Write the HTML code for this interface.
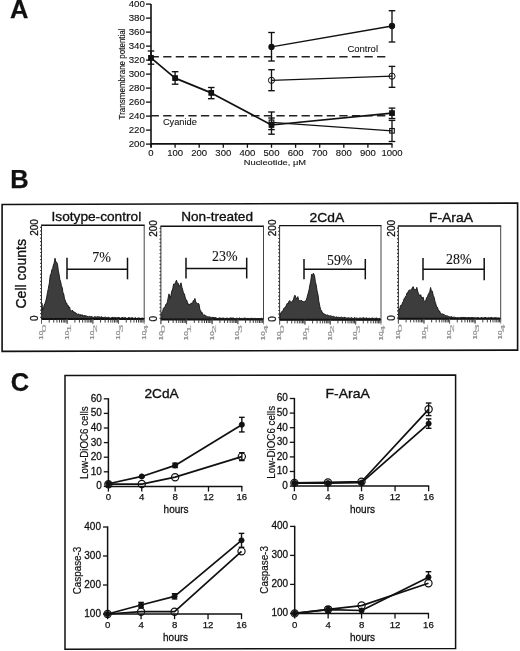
<!DOCTYPE html>
<html><head><meta charset="utf-8"><style>
html,body{margin:0;padding:0;background:#fff;}
svg{display:block;filter:blur(0.3px);}

</style></head><body>
<svg width="520" height="651" viewBox="0 0 520 651">
<rect width="520" height="651" fill="#fff"/>
<text x="10.00" y="18.20" font-family="Liberation Sans" font-size="25.5" text-anchor="start" fill="#111" stroke="#111" stroke-width="0.25" font-weight="bold">A</text>
<line x1="151.00" y1="4.10" x2="151.00" y2="147.50" stroke="#111" stroke-width="1.6" />
<line x1="150.20" y1="143.90" x2="392.50" y2="143.90" stroke="#111" stroke-width="1.6" />
<line x1="146.00" y1="144.10" x2="151.00" y2="144.10" stroke="#111" stroke-width="1.3" />
<text x="144.90" y="147.05" font-family="Liberation Sans" font-size="8.2" text-anchor="end" fill="#111" textLength="16.2" lengthAdjust="spacingAndGlyphs" stroke="#111" stroke-width="0.1" >200</text>
<line x1="146.00" y1="130.10" x2="151.00" y2="130.10" stroke="#111" stroke-width="1.3" />
<text x="144.90" y="133.05" font-family="Liberation Sans" font-size="8.2" text-anchor="end" fill="#111" textLength="16.2" lengthAdjust="spacingAndGlyphs" stroke="#111" stroke-width="0.1" >220</text>
<line x1="146.00" y1="116.10" x2="151.00" y2="116.10" stroke="#111" stroke-width="1.3" />
<text x="144.90" y="119.05" font-family="Liberation Sans" font-size="8.2" text-anchor="end" fill="#111" textLength="16.2" lengthAdjust="spacingAndGlyphs" stroke="#111" stroke-width="0.1" >240</text>
<line x1="146.00" y1="102.10" x2="151.00" y2="102.10" stroke="#111" stroke-width="1.3" />
<text x="144.90" y="105.05" font-family="Liberation Sans" font-size="8.2" text-anchor="end" fill="#111" textLength="16.2" lengthAdjust="spacingAndGlyphs" stroke="#111" stroke-width="0.1" >260</text>
<line x1="146.00" y1="88.10" x2="151.00" y2="88.10" stroke="#111" stroke-width="1.3" />
<text x="144.90" y="91.05" font-family="Liberation Sans" font-size="8.2" text-anchor="end" fill="#111" textLength="16.2" lengthAdjust="spacingAndGlyphs" stroke="#111" stroke-width="0.1" >280</text>
<line x1="146.00" y1="74.10" x2="151.00" y2="74.10" stroke="#111" stroke-width="1.3" />
<text x="144.90" y="77.05" font-family="Liberation Sans" font-size="8.2" text-anchor="end" fill="#111" textLength="16.2" lengthAdjust="spacingAndGlyphs" stroke="#111" stroke-width="0.1" >300</text>
<line x1="146.00" y1="60.10" x2="151.00" y2="60.10" stroke="#111" stroke-width="1.3" />
<text x="144.90" y="63.05" font-family="Liberation Sans" font-size="8.2" text-anchor="end" fill="#111" textLength="16.2" lengthAdjust="spacingAndGlyphs" stroke="#111" stroke-width="0.1" >320</text>
<line x1="146.00" y1="46.10" x2="151.00" y2="46.10" stroke="#111" stroke-width="1.3" />
<text x="144.90" y="49.05" font-family="Liberation Sans" font-size="8.2" text-anchor="end" fill="#111" textLength="16.2" lengthAdjust="spacingAndGlyphs" stroke="#111" stroke-width="0.1" >340</text>
<line x1="146.00" y1="32.10" x2="151.00" y2="32.10" stroke="#111" stroke-width="1.3" />
<text x="144.90" y="35.05" font-family="Liberation Sans" font-size="8.2" text-anchor="end" fill="#111" textLength="16.2" lengthAdjust="spacingAndGlyphs" stroke="#111" stroke-width="0.1" >360</text>
<line x1="146.00" y1="18.10" x2="151.00" y2="18.10" stroke="#111" stroke-width="1.3" />
<text x="144.90" y="21.05" font-family="Liberation Sans" font-size="8.2" text-anchor="end" fill="#111" textLength="16.2" lengthAdjust="spacingAndGlyphs" stroke="#111" stroke-width="0.1" >380</text>
<line x1="146.00" y1="4.10" x2="151.00" y2="4.10" stroke="#111" stroke-width="1.3" />
<text x="144.90" y="7.05" font-family="Liberation Sans" font-size="8.2" text-anchor="end" fill="#111" textLength="16.2" lengthAdjust="spacingAndGlyphs" stroke="#111" stroke-width="0.1" >400</text>
<line x1="151.00" y1="143.90" x2="151.00" y2="147.80" stroke="#111" stroke-width="1.3" />
<text x="151.00" y="155.50" font-family="Liberation Sans" font-size="8.2" text-anchor="middle" fill="#111" textLength="5.3" lengthAdjust="spacingAndGlyphs" stroke="#111" stroke-width="0.1" >0</text>
<line x1="175.10" y1="143.90" x2="175.10" y2="147.80" stroke="#111" stroke-width="1.3" />
<text x="175.10" y="155.50" font-family="Liberation Sans" font-size="8.2" text-anchor="middle" fill="#111" textLength="15.9" lengthAdjust="spacingAndGlyphs" stroke="#111" stroke-width="0.1" >100</text>
<line x1="199.20" y1="143.90" x2="199.20" y2="147.80" stroke="#111" stroke-width="1.3" />
<text x="199.20" y="155.50" font-family="Liberation Sans" font-size="8.2" text-anchor="middle" fill="#111" textLength="15.9" lengthAdjust="spacingAndGlyphs" stroke="#111" stroke-width="0.1" >200</text>
<line x1="223.30" y1="143.90" x2="223.30" y2="147.80" stroke="#111" stroke-width="1.3" />
<text x="223.30" y="155.50" font-family="Liberation Sans" font-size="8.2" text-anchor="middle" fill="#111" textLength="15.9" lengthAdjust="spacingAndGlyphs" stroke="#111" stroke-width="0.1" >300</text>
<line x1="247.40" y1="143.90" x2="247.40" y2="147.80" stroke="#111" stroke-width="1.3" />
<text x="247.40" y="155.50" font-family="Liberation Sans" font-size="8.2" text-anchor="middle" fill="#111" textLength="15.9" lengthAdjust="spacingAndGlyphs" stroke="#111" stroke-width="0.1" >400</text>
<line x1="271.50" y1="143.90" x2="271.50" y2="147.80" stroke="#111" stroke-width="1.3" />
<text x="271.50" y="155.50" font-family="Liberation Sans" font-size="8.2" text-anchor="middle" fill="#111" textLength="15.9" lengthAdjust="spacingAndGlyphs" stroke="#111" stroke-width="0.1" >500</text>
<line x1="295.60" y1="143.90" x2="295.60" y2="147.80" stroke="#111" stroke-width="1.3" />
<text x="295.60" y="155.50" font-family="Liberation Sans" font-size="8.2" text-anchor="middle" fill="#111" textLength="15.9" lengthAdjust="spacingAndGlyphs" stroke="#111" stroke-width="0.1" >600</text>
<line x1="319.70" y1="143.90" x2="319.70" y2="147.80" stroke="#111" stroke-width="1.3" />
<text x="319.70" y="155.50" font-family="Liberation Sans" font-size="8.2" text-anchor="middle" fill="#111" textLength="15.9" lengthAdjust="spacingAndGlyphs" stroke="#111" stroke-width="0.1" >700</text>
<line x1="343.80" y1="143.90" x2="343.80" y2="147.80" stroke="#111" stroke-width="1.3" />
<text x="343.80" y="155.50" font-family="Liberation Sans" font-size="8.2" text-anchor="middle" fill="#111" textLength="15.9" lengthAdjust="spacingAndGlyphs" stroke="#111" stroke-width="0.1" >800</text>
<line x1="367.90" y1="143.90" x2="367.90" y2="147.80" stroke="#111" stroke-width="1.3" />
<text x="367.90" y="155.50" font-family="Liberation Sans" font-size="8.2" text-anchor="middle" fill="#111" textLength="15.9" lengthAdjust="spacingAndGlyphs" stroke="#111" stroke-width="0.1" >900</text>
<line x1="392.00" y1="143.90" x2="392.00" y2="147.80" stroke="#111" stroke-width="1.3" />
<text x="392.00" y="155.50" font-family="Liberation Sans" font-size="8.2" text-anchor="middle" fill="#111" textLength="21.2" lengthAdjust="spacingAndGlyphs" stroke="#111" stroke-width="0.1" >1000</text>
<text x="243.80" y="165.00" font-family="Liberation Sans" font-size="7.7" text-anchor="start" fill="#111" textLength="62.3" lengthAdjust="spacingAndGlyphs" stroke="#111" stroke-width="0.1" >Nucleotide, μM</text>
<text transform="translate(125.4,73.9) rotate(-90)" font-family="Liberation Sans" font-size="8.9" text-anchor="middle" fill="#111" stroke="#111" stroke-width="0.15" textLength="91" lengthAdjust="spacingAndGlyphs">Transmembrane potential</text>
<line x1="150.60" y1="56.80" x2="386.20" y2="56.80" stroke="#222" stroke-width="1.4" stroke-dasharray="8.3 4.28"/>
<line x1="150.60" y1="115.80" x2="386.20" y2="115.80" stroke="#222" stroke-width="1.4" stroke-dasharray="8.3 4.28"/>
<text x="347.40" y="52.10" font-family="Liberation Sans" font-size="8.6" text-anchor="start" fill="#111" textLength="30.6" lengthAdjust="spacingAndGlyphs" stroke="#111" stroke-width="0.08" >Control</text>
<text x="162.90" y="125.40" font-family="Liberation Sans" font-size="8.6" text-anchor="start" fill="#111" textLength="34.0" lengthAdjust="spacingAndGlyphs" stroke="#111" stroke-width="0.08" >Cyanide</text>
<polyline points="151.00,57.90 175.10,78.10 211.25,92.90 271.50,125.00 392.00,113.10" fill="none" stroke="#111" stroke-width="1.7" stroke-linejoin="round"/>
<polyline points="271.50,122.30 392.00,130.80" fill="none" stroke="#111" stroke-width="1.3" stroke-linejoin="round"/>
<polyline points="271.50,46.90 392.00,26.00" fill="none" stroke="#111" stroke-width="1.4" stroke-linejoin="round"/>
<polyline points="271.50,80.30 392.00,76.20" fill="none" stroke="#111" stroke-width="1.2" stroke-linejoin="round"/>
<line x1="151.00" y1="51.00" x2="151.00" y2="64.20" stroke="#111" stroke-width="1.35" />
<line x1="147.70" y1="51.00" x2="154.30" y2="51.00" stroke="#111" stroke-width="1.35" />
<line x1="147.70" y1="64.20" x2="154.30" y2="64.20" stroke="#111" stroke-width="1.35" />
<line x1="175.10" y1="71.70" x2="175.10" y2="84.20" stroke="#111" stroke-width="1.35" />
<line x1="171.80" y1="71.70" x2="178.40" y2="71.70" stroke="#111" stroke-width="1.35" />
<line x1="171.80" y1="84.20" x2="178.40" y2="84.20" stroke="#111" stroke-width="1.35" />
<line x1="211.25" y1="87.50" x2="211.25" y2="98.70" stroke="#111" stroke-width="1.35" />
<line x1="207.95" y1="87.50" x2="214.55" y2="87.50" stroke="#111" stroke-width="1.35" />
<line x1="207.95" y1="98.70" x2="214.55" y2="98.70" stroke="#111" stroke-width="1.35" />
<line x1="271.50" y1="118.00" x2="271.50" y2="134.20" stroke="#111" stroke-width="1.35" />
<line x1="268.20" y1="118.00" x2="274.80" y2="118.00" stroke="#111" stroke-width="1.35" />
<line x1="268.20" y1="134.20" x2="274.80" y2="134.20" stroke="#111" stroke-width="1.35" />
<line x1="392.00" y1="108.10" x2="392.00" y2="118.50" stroke="#111" stroke-width="1.35" />
<line x1="388.70" y1="108.10" x2="395.30" y2="108.10" stroke="#111" stroke-width="1.35" />
<line x1="388.70" y1="118.50" x2="395.30" y2="118.50" stroke="#111" stroke-width="1.35" />
<line x1="271.50" y1="112.00" x2="271.50" y2="129.60" stroke="#111" stroke-width="1.35" />
<line x1="268.20" y1="112.00" x2="274.80" y2="112.00" stroke="#111" stroke-width="1.35" />
<line x1="268.20" y1="129.60" x2="274.80" y2="129.60" stroke="#111" stroke-width="1.35" />
<line x1="392.00" y1="120.40" x2="392.00" y2="141.50" stroke="#111" stroke-width="1.35" />
<line x1="388.70" y1="120.40" x2="395.30" y2="120.40" stroke="#111" stroke-width="1.35" />
<line x1="388.70" y1="141.50" x2="395.30" y2="141.50" stroke="#111" stroke-width="1.35" />
<line x1="271.50" y1="32.50" x2="271.50" y2="61.00" stroke="#111" stroke-width="1.35" />
<line x1="268.20" y1="32.50" x2="274.80" y2="32.50" stroke="#111" stroke-width="1.35" />
<line x1="268.20" y1="61.00" x2="274.80" y2="61.00" stroke="#111" stroke-width="1.35" />
<line x1="392.00" y1="10.70" x2="392.00" y2="42.00" stroke="#111" stroke-width="1.35" />
<line x1="388.70" y1="10.70" x2="395.30" y2="10.70" stroke="#111" stroke-width="1.35" />
<line x1="388.70" y1="42.00" x2="395.30" y2="42.00" stroke="#111" stroke-width="1.35" />
<line x1="271.50" y1="69.70" x2="271.50" y2="90.70" stroke="#111" stroke-width="1.35" />
<line x1="268.20" y1="69.70" x2="274.80" y2="69.70" stroke="#111" stroke-width="1.35" />
<line x1="268.20" y1="90.70" x2="274.80" y2="90.70" stroke="#111" stroke-width="1.35" />
<line x1="392.00" y1="66.40" x2="392.00" y2="87.30" stroke="#111" stroke-width="1.35" />
<line x1="388.70" y1="66.40" x2="395.30" y2="66.40" stroke="#111" stroke-width="1.35" />
<line x1="388.70" y1="87.30" x2="395.30" y2="87.30" stroke="#111" stroke-width="1.35" />
<rect x="269.20" y="120.00" width="4.6" height="4.6" fill="none" stroke="#111" stroke-width="1.1"/>
<rect x="389.70" y="128.50" width="4.6" height="4.6" fill="none" stroke="#111" stroke-width="1.1"/>
<rect x="148.70" y="55.60" width="4.6" height="4.6" fill="#111" stroke="#111" stroke-width="1.1"/>
<rect x="172.80" y="75.80" width="4.6" height="4.6" fill="#111" stroke="#111" stroke-width="1.1"/>
<rect x="208.95" y="90.60" width="4.6" height="4.6" fill="#111" stroke="#111" stroke-width="1.1"/>
<rect x="269.20" y="122.70" width="4.6" height="4.6" fill="#111" stroke="#111" stroke-width="1.1"/>
<rect x="389.70" y="110.80" width="4.6" height="4.6" fill="#111" stroke="#111" stroke-width="1.1"/>
<circle cx="271.50" cy="46.90" r="2.6" fill="#111" stroke="#111" stroke-width="1.1"/>
<circle cx="392.00" cy="26.00" r="2.6" fill="#111" stroke="#111" stroke-width="1.1"/>
<circle cx="271.50" cy="80.30" r="3.1" fill="none" stroke="#111" stroke-width="1.0"/>
<circle cx="392.00" cy="76.20" r="3.1" fill="none" stroke="#111" stroke-width="1.0"/>
<text x="10.30" y="187.80" font-family="Liberation Sans" font-size="25.5" text-anchor="start" fill="#111" stroke="#111" stroke-width="0.25" font-weight="bold">B</text>
<polygon points="2.1,204.5 517.6,203.1 517.6,350.1 2.1,351.4" fill="none" stroke="#111" stroke-width="1.6"/>
<text transform="translate(26.30,273.80) rotate(-90)" x="0" y="0" font-family="Liberation Sans" font-size="14.8" text-anchor="middle" fill="#111" stroke="#111" stroke-width="0.35" textLength="69.6" lengthAdjust="spacingAndGlyphs">Cell counts</text>
<path d="M41.50,319.00 L41.50,318.79 L41.90,303.13 L42.60,310.02 L43.38,308.85 L44.15,304.95 L44.93,303.69 L45.70,301.28 L46.57,298.00 L47.43,292.69 L48.30,288.63 L49.30,283.26 L50.30,274.85 L51.07,273.83 L51.85,269.69 L52.62,268.49 L53.40,265.06 L54.20,263.06 L55.00,258.21 L55.83,262.00 L56.67,262.21 L57.50,264.23 L58.30,270.51 L59.10,274.39 L59.88,279.52 L60.65,281.82 L61.43,285.68 L62.20,287.62 L62.98,292.53 L63.75,294.00 L64.53,299.07 L65.30,300.16 L66.00,303.35 L66.70,302.99 L67.40,305.56 L68.10,305.24 L68.80,308.01 L69.50,306.87 L70.20,309.53 L70.90,310.39 L71.65,311.20 L72.41,310.03 L73.16,312.15 L73.92,311.41 L74.67,312.81 L75.43,312.44 L76.18,313.64 L76.94,313.47 L77.69,314.51 L78.45,314.09 L79.20,314.20 L79.92,315.48 L80.64,314.42 L81.36,315.81 L82.08,314.61 L82.80,315.95 L83.52,315.58 L84.24,316.29 L84.96,315.11 L85.68,316.56 L86.40,315.70 L87.12,316.70 L87.84,316.25 L88.56,317.00 L89.28,316.18 L90.00,316.55 L90.71,316.87 L91.43,316.11 L92.14,317.42 L92.86,316.85 L93.57,317.38 L94.29,316.63 L95.00,317.10 L95.71,316.80 L96.43,317.50 L97.14,316.35 L97.86,317.18 L98.57,316.64 L99.29,317.24 L100.00,316.62 L100.71,317.46 L101.43,316.54 L102.14,317.86 L102.86,316.93 L103.57,317.94 L104.29,317.17 L105.00,317.52 L105.71,316.98 L106.43,317.56 L107.14,317.40 L107.86,317.82 L108.57,317.10 L109.29,317.75 L110.00,317.66 L110.71,318.17 L111.42,317.45 L112.12,318.24 L112.83,316.96 L113.54,317.96 L114.25,317.37 L114.96,318.06 L115.67,317.23 L116.38,318.13 L117.08,317.33 L117.79,318.16 L118.50,317.02 L119.21,318.13 L119.92,317.50 L120.62,318.27 L121.33,317.69 L122.04,318.07 L122.75,317.06 L123.46,318.21 L124.17,317.47 L124.88,317.97 L125.58,317.61 L126.29,318.29 L127.00,317.98 L127.71,318.34 L128.42,317.47 L129.12,318.07 L129.83,317.50 L130.54,318.31 L131.25,317.48 L131.96,318.27 L132.67,317.48 L133.38,318.50 L134.08,318.11 L134.79,318.17 L135.50,317.56 L136.21,318.67 L136.92,317.95 L137.62,318.43 L138.33,317.68 L139.04,318.38 L139.75,317.90 L140.46,318.40 L141.17,317.93 L141.88,318.58 L142.58,318.01 L143.29,318.49 L144.00,318.30 L144.20,319.00 Z" fill="#3d3d3d" stroke="#111" stroke-width="0.9" stroke-linejoin="round"/>
<line x1="41.00" y1="225.20" x2="144.70" y2="225.20" stroke="#111" stroke-width="1.4" />
<line x1="144.20" y1="225.20" x2="144.20" y2="319.00" stroke="#444" stroke-width="1.0" />
<line x1="41.50" y1="225.20" x2="41.50" y2="319.00" stroke="#333" stroke-width="1.0" />
<line x1="40.80" y1="226.70" x2="40.80" y2="319.00" stroke="#333" stroke-width="1.3" stroke-dasharray="1.2 2.4"/>
<line x1="41.50" y1="319.00" x2="144.20" y2="319.00" stroke="#111" stroke-width="2.0" />
<line x1="41.50" y1="319.00" x2="41.50" y2="323.50" stroke="#2a2a2a" stroke-width="0.9" />
<line x1="49.23" y1="319.00" x2="49.23" y2="322.60" stroke="#2a2a2a" stroke-width="0.9" />
<line x1="53.75" y1="319.00" x2="53.75" y2="322.60" stroke="#2a2a2a" stroke-width="0.9" />
<line x1="56.96" y1="319.00" x2="56.96" y2="322.60" stroke="#2a2a2a" stroke-width="0.9" />
<line x1="59.45" y1="319.00" x2="59.45" y2="322.60" stroke="#2a2a2a" stroke-width="0.9" />
<line x1="61.48" y1="319.00" x2="61.48" y2="322.60" stroke="#2a2a2a" stroke-width="0.9" />
<line x1="63.20" y1="319.00" x2="63.20" y2="322.60" stroke="#2a2a2a" stroke-width="0.9" />
<line x1="64.69" y1="319.00" x2="64.69" y2="322.60" stroke="#2a2a2a" stroke-width="0.9" />
<line x1="66.00" y1="319.00" x2="66.00" y2="322.60" stroke="#2a2a2a" stroke-width="0.9" />
<line x1="67.17" y1="319.00" x2="67.17" y2="323.50" stroke="#2a2a2a" stroke-width="0.9" />
<line x1="74.90" y1="319.00" x2="74.90" y2="322.60" stroke="#2a2a2a" stroke-width="0.9" />
<line x1="79.43" y1="319.00" x2="79.43" y2="322.60" stroke="#2a2a2a" stroke-width="0.9" />
<line x1="82.63" y1="319.00" x2="82.63" y2="322.60" stroke="#2a2a2a" stroke-width="0.9" />
<line x1="85.12" y1="319.00" x2="85.12" y2="322.60" stroke="#2a2a2a" stroke-width="0.9" />
<line x1="87.15" y1="319.00" x2="87.15" y2="322.60" stroke="#2a2a2a" stroke-width="0.9" />
<line x1="88.87" y1="319.00" x2="88.87" y2="322.60" stroke="#2a2a2a" stroke-width="0.9" />
<line x1="90.36" y1="319.00" x2="90.36" y2="322.60" stroke="#2a2a2a" stroke-width="0.9" />
<line x1="91.68" y1="319.00" x2="91.68" y2="322.60" stroke="#2a2a2a" stroke-width="0.9" />
<line x1="92.85" y1="319.00" x2="92.85" y2="323.50" stroke="#2a2a2a" stroke-width="0.9" />
<line x1="100.58" y1="319.00" x2="100.58" y2="322.60" stroke="#2a2a2a" stroke-width="0.9" />
<line x1="105.10" y1="319.00" x2="105.10" y2="322.60" stroke="#2a2a2a" stroke-width="0.9" />
<line x1="108.31" y1="319.00" x2="108.31" y2="322.60" stroke="#2a2a2a" stroke-width="0.9" />
<line x1="110.80" y1="319.00" x2="110.80" y2="322.60" stroke="#2a2a2a" stroke-width="0.9" />
<line x1="112.83" y1="319.00" x2="112.83" y2="322.60" stroke="#2a2a2a" stroke-width="0.9" />
<line x1="114.55" y1="319.00" x2="114.55" y2="322.60" stroke="#2a2a2a" stroke-width="0.9" />
<line x1="116.04" y1="319.00" x2="116.04" y2="322.60" stroke="#2a2a2a" stroke-width="0.9" />
<line x1="117.35" y1="319.00" x2="117.35" y2="322.60" stroke="#2a2a2a" stroke-width="0.9" />
<line x1="118.52" y1="319.00" x2="118.52" y2="323.50" stroke="#2a2a2a" stroke-width="0.9" />
<line x1="126.25" y1="319.00" x2="126.25" y2="322.60" stroke="#2a2a2a" stroke-width="0.9" />
<line x1="130.78" y1="319.00" x2="130.78" y2="322.60" stroke="#2a2a2a" stroke-width="0.9" />
<line x1="133.98" y1="319.00" x2="133.98" y2="322.60" stroke="#2a2a2a" stroke-width="0.9" />
<line x1="136.47" y1="319.00" x2="136.47" y2="322.60" stroke="#2a2a2a" stroke-width="0.9" />
<line x1="138.50" y1="319.00" x2="138.50" y2="322.60" stroke="#2a2a2a" stroke-width="0.9" />
<line x1="140.22" y1="319.00" x2="140.22" y2="322.60" stroke="#2a2a2a" stroke-width="0.9" />
<line x1="141.71" y1="319.00" x2="141.71" y2="322.60" stroke="#2a2a2a" stroke-width="0.9" />
<line x1="143.03" y1="319.00" x2="143.03" y2="322.60" stroke="#2a2a2a" stroke-width="0.9" />
<line x1="144.20" y1="319.00" x2="144.20" y2="322.00" stroke="#444" stroke-width="0.7" />
<text transform="translate(43.10,339.80) rotate(-90)" font-family="Liberation Sans" font-size="5.2" fill="#8a8a8a" stroke="#8a8a8a" stroke-width="0.2" textLength="9" lengthAdjust="spacingAndGlyphs">10</text>
<text transform="translate(45.50,332.50) rotate(-90)" font-family="Liberation Sans" font-size="4.8" fill="#999" stroke="#999" stroke-width="0.15" textLength="8" lengthAdjust="spacingAndGlyphs">0</text>
<line x1="41.50" y1="319.00" x2="41.50" y2="324.00" stroke="#666" stroke-width="0.8" />
<text transform="translate(68.77,339.80) rotate(-90)" font-family="Liberation Sans" font-size="5.2" fill="#8a8a8a" stroke="#8a8a8a" stroke-width="0.2" textLength="9" lengthAdjust="spacingAndGlyphs">10</text>
<text transform="translate(71.17,332.50) rotate(-90)" font-family="Liberation Sans" font-size="4.8" fill="#999" stroke="#999" stroke-width="0.15" textLength="8" lengthAdjust="spacingAndGlyphs">1</text>
<line x1="67.17" y1="319.00" x2="67.17" y2="324.00" stroke="#666" stroke-width="0.8" />
<text transform="translate(94.45,339.80) rotate(-90)" font-family="Liberation Sans" font-size="5.2" fill="#8a8a8a" stroke="#8a8a8a" stroke-width="0.2" textLength="9" lengthAdjust="spacingAndGlyphs">10</text>
<text transform="translate(96.85,332.50) rotate(-90)" font-family="Liberation Sans" font-size="4.8" fill="#999" stroke="#999" stroke-width="0.15" textLength="8" lengthAdjust="spacingAndGlyphs">2</text>
<line x1="92.85" y1="319.00" x2="92.85" y2="324.00" stroke="#666" stroke-width="0.8" />
<text transform="translate(120.12,339.80) rotate(-90)" font-family="Liberation Sans" font-size="5.2" fill="#8a8a8a" stroke="#8a8a8a" stroke-width="0.2" textLength="9" lengthAdjust="spacingAndGlyphs">10</text>
<text transform="translate(122.52,332.50) rotate(-90)" font-family="Liberation Sans" font-size="4.8" fill="#999" stroke="#999" stroke-width="0.15" textLength="8" lengthAdjust="spacingAndGlyphs">3</text>
<line x1="118.52" y1="319.00" x2="118.52" y2="324.00" stroke="#666" stroke-width="0.8" />
<text transform="translate(145.80,339.80) rotate(-90)" font-family="Liberation Sans" font-size="5.2" fill="#8a8a8a" stroke="#8a8a8a" stroke-width="0.2" textLength="9" lengthAdjust="spacingAndGlyphs">10</text>
<text transform="translate(148.20,332.50) rotate(-90)" font-family="Liberation Sans" font-size="4.8" fill="#999" stroke="#999" stroke-width="0.15" textLength="8" lengthAdjust="spacingAndGlyphs">4</text>
<line x1="144.20" y1="319.00" x2="144.20" y2="324.00" stroke="#666" stroke-width="0.8" />
<text transform="translate(37.70,227.50) rotate(-90)" font-family="Liberation Sans" font-size="10" text-anchor="middle" fill="#111" stroke="#111" stroke-width="0.3">200</text>
<text transform="translate(37.70,318.20) rotate(-90)" font-family="Liberation Sans" font-size="10" text-anchor="middle" fill="#111" stroke="#111" stroke-width="0.3">0</text>
<text x="51.50" y="220.80" font-family="Liberation Sans" font-size="13.6" text-anchor="start" fill="#111" textLength="89.7" lengthAdjust="spacingAndGlyphs" stroke="#111" stroke-width="0.354" >Isotype-control</text>
<text x="92.30" y="261.80" font-family="Liberation Serif" font-size="14" text-anchor="start" fill="#111" textLength="18.7" lengthAdjust="spacingAndGlyphs" stroke="#111" stroke-width="0.12" >7%</text>
<line x1="67.00" y1="269.20" x2="127.50" y2="269.20" stroke="#111" stroke-width="1.5" />
<line x1="67.00" y1="257.70" x2="67.00" y2="279.30" stroke="#111" stroke-width="1.5" />
<line x1="127.50" y1="257.70" x2="127.50" y2="279.30" stroke="#111" stroke-width="1.5" />
<path d="M160.90,319.40 L161.50,318.32 L161.80,312.37 L162.63,311.39 L163.47,308.16 L164.30,307.30 L165.10,306.85 L165.90,304.18 L166.70,303.92 L167.47,301.38 L168.23,297.40 L169.00,293.88 L170.10,298.34 L170.95,295.36 L171.80,291.07 L172.70,288.95 L173.60,284.00 L174.45,284.67 L175.30,282.73 L176.50,280.16 L177.35,283.32 L178.20,283.28 L179.30,286.28 L180.15,285.22 L181.00,282.81 L181.90,287.26 L182.80,290.19 L183.57,293.57 L184.33,293.76 L185.10,297.11 L185.87,299.60 L186.63,299.98 L187.40,302.17 L188.17,304.57 L188.93,303.85 L189.70,304.79 L190.42,304.83 L191.15,302.83 L191.88,303.91 L192.60,302.65 L193.20,300.73 L194.05,300.65 L194.90,298.44 L195.80,302.03 L196.70,302.95 L197.47,303.97 L198.23,303.22 L199.00,304.09 L199.85,309.30 L200.70,310.57 L201.47,313.07 L202.23,312.61 L203.00,314.50 L203.70,315.43 L204.40,314.64 L205.10,316.07 L205.80,315.60 L206.50,316.15 L207.25,316.78 L208.00,316.60 L208.75,317.04 L209.50,316.68 L210.25,317.55 L211.00,316.89 L211.70,317.68 L212.40,316.92 L213.10,318.15 L213.80,317.03 L214.50,318.37 L215.20,317.17 L215.90,318.32 L216.60,318.07 L217.30,318.53 L218.00,318.05 L218.71,318.37 L219.42,317.64 L220.13,318.51 L220.84,317.87 L221.55,318.74 L222.26,317.72 L222.97,318.45 L223.68,318.06 L224.39,318.74 L225.10,317.88 L225.81,318.72 L226.52,318.01 L227.23,318.43 L227.94,317.87 L228.65,318.78 L229.35,318.20 L230.06,318.78 L230.77,317.56 L231.48,318.81 L232.19,317.67 L232.90,318.41 L233.61,317.86 L234.32,318.88 L235.03,318.39 L235.74,318.59 L236.45,318.22 L237.16,318.74 L237.87,318.10 L238.58,318.73 L239.29,317.81 L240.00,318.50 L240.72,318.53 L241.44,318.39 L242.16,318.58 L242.88,318.45 L243.59,319.03 L244.31,317.77 L245.03,318.57 L245.75,318.08 L246.47,318.69 L247.19,318.25 L247.91,318.72 L248.62,317.97 L249.34,318.85 L250.06,318.23 L250.78,318.65 L251.50,318.26 L252.22,318.62 L252.94,318.07 L253.66,318.94 L254.38,318.23 L255.09,318.61 L255.81,318.41 L256.53,318.77 L257.25,318.04 L257.97,318.99 L258.69,318.25 L259.41,319.01 L260.12,318.04 L260.84,318.82 L261.56,318.27 L262.28,318.86 L263.00,318.60 L263.50,319.40 Z" fill="#3d3d3d" stroke="#111" stroke-width="0.9" stroke-linejoin="round"/>
<line x1="160.40" y1="226.20" x2="264.00" y2="226.20" stroke="#111" stroke-width="1.4" />
<line x1="263.50" y1="226.20" x2="263.50" y2="319.40" stroke="#444" stroke-width="1.0" />
<line x1="160.90" y1="226.20" x2="160.90" y2="319.40" stroke="#333" stroke-width="1.0" />
<line x1="160.20" y1="227.70" x2="160.20" y2="319.40" stroke="#333" stroke-width="1.3" stroke-dasharray="1.2 2.4"/>
<line x1="160.90" y1="319.40" x2="263.50" y2="319.40" stroke="#111" stroke-width="2.0" />
<line x1="160.90" y1="319.40" x2="160.90" y2="323.90" stroke="#2a2a2a" stroke-width="0.9" />
<line x1="168.62" y1="319.40" x2="168.62" y2="323.00" stroke="#2a2a2a" stroke-width="0.9" />
<line x1="173.14" y1="319.40" x2="173.14" y2="323.00" stroke="#2a2a2a" stroke-width="0.9" />
<line x1="176.34" y1="319.40" x2="176.34" y2="323.00" stroke="#2a2a2a" stroke-width="0.9" />
<line x1="178.83" y1="319.40" x2="178.83" y2="323.00" stroke="#2a2a2a" stroke-width="0.9" />
<line x1="180.86" y1="319.40" x2="180.86" y2="323.00" stroke="#2a2a2a" stroke-width="0.9" />
<line x1="182.58" y1="319.40" x2="182.58" y2="323.00" stroke="#2a2a2a" stroke-width="0.9" />
<line x1="184.06" y1="319.40" x2="184.06" y2="323.00" stroke="#2a2a2a" stroke-width="0.9" />
<line x1="185.38" y1="319.40" x2="185.38" y2="323.00" stroke="#2a2a2a" stroke-width="0.9" />
<line x1="186.55" y1="319.40" x2="186.55" y2="323.90" stroke="#2a2a2a" stroke-width="0.9" />
<line x1="194.27" y1="319.40" x2="194.27" y2="323.00" stroke="#2a2a2a" stroke-width="0.9" />
<line x1="198.79" y1="319.40" x2="198.79" y2="323.00" stroke="#2a2a2a" stroke-width="0.9" />
<line x1="201.99" y1="319.40" x2="201.99" y2="323.00" stroke="#2a2a2a" stroke-width="0.9" />
<line x1="204.48" y1="319.40" x2="204.48" y2="323.00" stroke="#2a2a2a" stroke-width="0.9" />
<line x1="206.51" y1="319.40" x2="206.51" y2="323.00" stroke="#2a2a2a" stroke-width="0.9" />
<line x1="208.23" y1="319.40" x2="208.23" y2="323.00" stroke="#2a2a2a" stroke-width="0.9" />
<line x1="209.71" y1="319.40" x2="209.71" y2="323.00" stroke="#2a2a2a" stroke-width="0.9" />
<line x1="211.03" y1="319.40" x2="211.03" y2="323.00" stroke="#2a2a2a" stroke-width="0.9" />
<line x1="212.20" y1="319.40" x2="212.20" y2="323.90" stroke="#2a2a2a" stroke-width="0.9" />
<line x1="219.92" y1="319.40" x2="219.92" y2="323.00" stroke="#2a2a2a" stroke-width="0.9" />
<line x1="224.44" y1="319.40" x2="224.44" y2="323.00" stroke="#2a2a2a" stroke-width="0.9" />
<line x1="227.64" y1="319.40" x2="227.64" y2="323.00" stroke="#2a2a2a" stroke-width="0.9" />
<line x1="230.13" y1="319.40" x2="230.13" y2="323.00" stroke="#2a2a2a" stroke-width="0.9" />
<line x1="232.16" y1="319.40" x2="232.16" y2="323.00" stroke="#2a2a2a" stroke-width="0.9" />
<line x1="233.88" y1="319.40" x2="233.88" y2="323.00" stroke="#2a2a2a" stroke-width="0.9" />
<line x1="235.36" y1="319.40" x2="235.36" y2="323.00" stroke="#2a2a2a" stroke-width="0.9" />
<line x1="236.68" y1="319.40" x2="236.68" y2="323.00" stroke="#2a2a2a" stroke-width="0.9" />
<line x1="237.85" y1="319.40" x2="237.85" y2="323.90" stroke="#2a2a2a" stroke-width="0.9" />
<line x1="245.57" y1="319.40" x2="245.57" y2="323.00" stroke="#2a2a2a" stroke-width="0.9" />
<line x1="250.09" y1="319.40" x2="250.09" y2="323.00" stroke="#2a2a2a" stroke-width="0.9" />
<line x1="253.29" y1="319.40" x2="253.29" y2="323.00" stroke="#2a2a2a" stroke-width="0.9" />
<line x1="255.78" y1="319.40" x2="255.78" y2="323.00" stroke="#2a2a2a" stroke-width="0.9" />
<line x1="257.81" y1="319.40" x2="257.81" y2="323.00" stroke="#2a2a2a" stroke-width="0.9" />
<line x1="259.53" y1="319.40" x2="259.53" y2="323.00" stroke="#2a2a2a" stroke-width="0.9" />
<line x1="261.01" y1="319.40" x2="261.01" y2="323.00" stroke="#2a2a2a" stroke-width="0.9" />
<line x1="262.33" y1="319.40" x2="262.33" y2="323.00" stroke="#2a2a2a" stroke-width="0.9" />
<line x1="263.50" y1="319.40" x2="263.50" y2="322.40" stroke="#444" stroke-width="0.7" />
<text transform="translate(162.50,340.20) rotate(-90)" font-family="Liberation Sans" font-size="5.2" fill="#8a8a8a" stroke="#8a8a8a" stroke-width="0.2" textLength="9" lengthAdjust="spacingAndGlyphs">10</text>
<text transform="translate(164.90,332.90) rotate(-90)" font-family="Liberation Sans" font-size="4.8" fill="#999" stroke="#999" stroke-width="0.15" textLength="8" lengthAdjust="spacingAndGlyphs">0</text>
<line x1="160.90" y1="319.40" x2="160.90" y2="324.40" stroke="#666" stroke-width="0.8" />
<text transform="translate(188.15,340.20) rotate(-90)" font-family="Liberation Sans" font-size="5.2" fill="#8a8a8a" stroke="#8a8a8a" stroke-width="0.2" textLength="9" lengthAdjust="spacingAndGlyphs">10</text>
<text transform="translate(190.55,332.90) rotate(-90)" font-family="Liberation Sans" font-size="4.8" fill="#999" stroke="#999" stroke-width="0.15" textLength="8" lengthAdjust="spacingAndGlyphs">1</text>
<line x1="186.55" y1="319.40" x2="186.55" y2="324.40" stroke="#666" stroke-width="0.8" />
<text transform="translate(213.80,340.20) rotate(-90)" font-family="Liberation Sans" font-size="5.2" fill="#8a8a8a" stroke="#8a8a8a" stroke-width="0.2" textLength="9" lengthAdjust="spacingAndGlyphs">10</text>
<text transform="translate(216.20,332.90) rotate(-90)" font-family="Liberation Sans" font-size="4.8" fill="#999" stroke="#999" stroke-width="0.15" textLength="8" lengthAdjust="spacingAndGlyphs">2</text>
<line x1="212.20" y1="319.40" x2="212.20" y2="324.40" stroke="#666" stroke-width="0.8" />
<text transform="translate(239.45,340.20) rotate(-90)" font-family="Liberation Sans" font-size="5.2" fill="#8a8a8a" stroke="#8a8a8a" stroke-width="0.2" textLength="9" lengthAdjust="spacingAndGlyphs">10</text>
<text transform="translate(241.85,332.90) rotate(-90)" font-family="Liberation Sans" font-size="4.8" fill="#999" stroke="#999" stroke-width="0.15" textLength="8" lengthAdjust="spacingAndGlyphs">3</text>
<line x1="237.85" y1="319.40" x2="237.85" y2="324.40" stroke="#666" stroke-width="0.8" />
<text transform="translate(265.10,340.20) rotate(-90)" font-family="Liberation Sans" font-size="5.2" fill="#8a8a8a" stroke="#8a8a8a" stroke-width="0.2" textLength="9" lengthAdjust="spacingAndGlyphs">10</text>
<text transform="translate(267.50,332.90) rotate(-90)" font-family="Liberation Sans" font-size="4.8" fill="#999" stroke="#999" stroke-width="0.15" textLength="8" lengthAdjust="spacingAndGlyphs">4</text>
<line x1="263.50" y1="319.40" x2="263.50" y2="324.40" stroke="#666" stroke-width="0.8" />
<text transform="translate(157.10,228.50) rotate(-90)" font-family="Liberation Sans" font-size="10" text-anchor="middle" fill="#111" stroke="#111" stroke-width="0.3">200</text>
<text transform="translate(157.10,318.60) rotate(-90)" font-family="Liberation Sans" font-size="10" text-anchor="middle" fill="#111" stroke="#111" stroke-width="0.3">0</text>
<text x="181.20" y="220.80" font-family="Liberation Sans" font-size="13.6" text-anchor="start" fill="#111" textLength="71.8" lengthAdjust="spacingAndGlyphs" stroke="#111" stroke-width="0.354" >Non-treated</text>
<text x="212.00" y="260.60" font-family="Liberation Serif" font-size="14" text-anchor="start" fill="#111" textLength="25.5" lengthAdjust="spacingAndGlyphs" stroke="#111" stroke-width="0.12" >23%</text>
<line x1="186.00" y1="268.60" x2="246.70" y2="268.60" stroke="#111" stroke-width="1.5" />
<line x1="186.00" y1="257.70" x2="186.00" y2="278.50" stroke="#111" stroke-width="1.5" />
<line x1="246.70" y1="257.70" x2="246.70" y2="278.50" stroke="#111" stroke-width="1.5" />
<path d="M279.60,319.80 L279.90,318.38 L279.90,313.51 L280.67,313.58 L281.43,311.80 L282.20,311.26 L282.93,311.11 L283.65,308.49 L284.38,308.67 L285.10,306.92 L285.87,307.04 L286.63,304.26 L287.40,303.20 L288.17,304.09 L288.93,301.33 L289.70,300.53 L290.80,302.58 L291.70,302.30 L292.60,300.50 L293.37,300.11 L294.13,296.91 L294.90,295.18 L296.00,297.63 L296.90,298.99 L297.80,296.63 L298.65,299.79 L299.50,300.53 L300.35,300.96 L301.20,300.09 L302.10,301.39 L303.00,301.16 L303.77,302.04 L304.53,301.45 L305.30,301.04 L306.15,300.35 L307.00,297.51 L308.20,293.16 L309.05,289.96 L309.90,284.91 L310.75,281.01 L311.60,274.22 L312.45,275.80 L313.30,273.18 L314.50,275.47 L315.35,281.52 L316.20,285.04 L317.10,291.04 L318.00,294.68 L318.85,301.34 L319.70,305.63 L320.55,309.42 L321.40,310.31 L322.12,312.37 L322.85,312.70 L323.57,314.09 L324.30,313.77 L325.07,314.83 L325.83,314.74 L326.60,315.23 L327.37,314.76 L328.13,315.90 L328.90,315.35 L329.64,316.05 L330.37,315.66 L331.11,316.35 L331.85,315.95 L332.58,316.52 L333.32,316.19 L334.05,317.30 L334.79,316.57 L335.53,317.49 L336.26,317.10 L337.00,316.79 L337.72,317.83 L338.44,316.87 L339.16,317.77 L339.88,317.10 L340.60,317.90 L341.32,316.80 L342.04,317.70 L342.76,317.57 L343.48,318.08 L344.20,316.91 L344.92,318.03 L345.64,317.39 L346.36,318.20 L347.08,317.68 L347.80,318.02 L348.52,317.74 L349.24,318.25 L349.96,317.70 L350.68,318.13 L351.40,317.43 L352.12,318.58 L352.84,317.84 L353.56,318.51 L354.28,317.80 L355.00,317.45 L355.71,318.52 L356.43,317.99 L357.14,318.35 L357.86,318.23 L358.57,318.51 L359.29,317.93 L360.00,318.37 L360.71,317.97 L361.43,318.47 L362.14,317.63 L362.86,318.40 L363.57,317.46 L364.29,318.60 L365.00,317.83 L365.71,318.62 L366.43,317.65 L367.14,318.83 L367.86,317.92 L368.57,318.67 L369.29,317.79 L370.00,318.89 L370.71,318.10 L371.43,318.85 L372.14,317.63 L372.86,318.73 L373.57,318.30 L374.29,318.63 L375.00,317.89 L375.71,318.89 L376.43,317.70 L377.14,319.01 L377.86,318.35 L378.57,318.68 L379.29,318.36 L380.00,318.60 L381.00,319.80 Z" fill="#3d3d3d" stroke="#111" stroke-width="0.9" stroke-linejoin="round"/>
<line x1="279.10" y1="225.60" x2="381.50" y2="225.60" stroke="#111" stroke-width="1.4" />
<line x1="381.00" y1="225.60" x2="381.00" y2="319.80" stroke="#444" stroke-width="1.0" />
<line x1="279.60" y1="225.60" x2="279.60" y2="319.80" stroke="#333" stroke-width="1.0" />
<line x1="278.90" y1="227.10" x2="278.90" y2="319.80" stroke="#333" stroke-width="1.3" stroke-dasharray="1.2 2.4"/>
<line x1="279.60" y1="319.80" x2="381.00" y2="319.80" stroke="#111" stroke-width="2.0" />
<line x1="279.60" y1="319.80" x2="279.60" y2="324.30" stroke="#2a2a2a" stroke-width="0.9" />
<line x1="287.23" y1="319.80" x2="287.23" y2="323.40" stroke="#2a2a2a" stroke-width="0.9" />
<line x1="291.70" y1="319.80" x2="291.70" y2="323.40" stroke="#2a2a2a" stroke-width="0.9" />
<line x1="294.86" y1="319.80" x2="294.86" y2="323.40" stroke="#2a2a2a" stroke-width="0.9" />
<line x1="297.32" y1="319.80" x2="297.32" y2="323.40" stroke="#2a2a2a" stroke-width="0.9" />
<line x1="299.33" y1="319.80" x2="299.33" y2="323.40" stroke="#2a2a2a" stroke-width="0.9" />
<line x1="301.02" y1="319.80" x2="301.02" y2="323.40" stroke="#2a2a2a" stroke-width="0.9" />
<line x1="302.49" y1="319.80" x2="302.49" y2="323.40" stroke="#2a2a2a" stroke-width="0.9" />
<line x1="303.79" y1="319.80" x2="303.79" y2="323.40" stroke="#2a2a2a" stroke-width="0.9" />
<line x1="304.95" y1="319.80" x2="304.95" y2="324.30" stroke="#2a2a2a" stroke-width="0.9" />
<line x1="312.58" y1="319.80" x2="312.58" y2="323.40" stroke="#2a2a2a" stroke-width="0.9" />
<line x1="317.05" y1="319.80" x2="317.05" y2="323.40" stroke="#2a2a2a" stroke-width="0.9" />
<line x1="320.21" y1="319.80" x2="320.21" y2="323.40" stroke="#2a2a2a" stroke-width="0.9" />
<line x1="322.67" y1="319.80" x2="322.67" y2="323.40" stroke="#2a2a2a" stroke-width="0.9" />
<line x1="324.68" y1="319.80" x2="324.68" y2="323.40" stroke="#2a2a2a" stroke-width="0.9" />
<line x1="326.37" y1="319.80" x2="326.37" y2="323.40" stroke="#2a2a2a" stroke-width="0.9" />
<line x1="327.84" y1="319.80" x2="327.84" y2="323.40" stroke="#2a2a2a" stroke-width="0.9" />
<line x1="329.14" y1="319.80" x2="329.14" y2="323.40" stroke="#2a2a2a" stroke-width="0.9" />
<line x1="330.30" y1="319.80" x2="330.30" y2="324.30" stroke="#2a2a2a" stroke-width="0.9" />
<line x1="337.93" y1="319.80" x2="337.93" y2="323.40" stroke="#2a2a2a" stroke-width="0.9" />
<line x1="342.40" y1="319.80" x2="342.40" y2="323.40" stroke="#2a2a2a" stroke-width="0.9" />
<line x1="345.56" y1="319.80" x2="345.56" y2="323.40" stroke="#2a2a2a" stroke-width="0.9" />
<line x1="348.02" y1="319.80" x2="348.02" y2="323.40" stroke="#2a2a2a" stroke-width="0.9" />
<line x1="350.03" y1="319.80" x2="350.03" y2="323.40" stroke="#2a2a2a" stroke-width="0.9" />
<line x1="351.72" y1="319.80" x2="351.72" y2="323.40" stroke="#2a2a2a" stroke-width="0.9" />
<line x1="353.19" y1="319.80" x2="353.19" y2="323.40" stroke="#2a2a2a" stroke-width="0.9" />
<line x1="354.49" y1="319.80" x2="354.49" y2="323.40" stroke="#2a2a2a" stroke-width="0.9" />
<line x1="355.65" y1="319.80" x2="355.65" y2="324.30" stroke="#2a2a2a" stroke-width="0.9" />
<line x1="363.28" y1="319.80" x2="363.28" y2="323.40" stroke="#2a2a2a" stroke-width="0.9" />
<line x1="367.75" y1="319.80" x2="367.75" y2="323.40" stroke="#2a2a2a" stroke-width="0.9" />
<line x1="370.91" y1="319.80" x2="370.91" y2="323.40" stroke="#2a2a2a" stroke-width="0.9" />
<line x1="373.37" y1="319.80" x2="373.37" y2="323.40" stroke="#2a2a2a" stroke-width="0.9" />
<line x1="375.38" y1="319.80" x2="375.38" y2="323.40" stroke="#2a2a2a" stroke-width="0.9" />
<line x1="377.07" y1="319.80" x2="377.07" y2="323.40" stroke="#2a2a2a" stroke-width="0.9" />
<line x1="378.54" y1="319.80" x2="378.54" y2="323.40" stroke="#2a2a2a" stroke-width="0.9" />
<line x1="379.84" y1="319.80" x2="379.84" y2="323.40" stroke="#2a2a2a" stroke-width="0.9" />
<line x1="381.00" y1="319.80" x2="381.00" y2="322.80" stroke="#444" stroke-width="0.7" />
<text transform="translate(281.20,340.60) rotate(-90)" font-family="Liberation Sans" font-size="5.2" fill="#8a8a8a" stroke="#8a8a8a" stroke-width="0.2" textLength="9" lengthAdjust="spacingAndGlyphs">10</text>
<text transform="translate(283.60,333.30) rotate(-90)" font-family="Liberation Sans" font-size="4.8" fill="#999" stroke="#999" stroke-width="0.15" textLength="8" lengthAdjust="spacingAndGlyphs">0</text>
<line x1="279.60" y1="319.80" x2="279.60" y2="324.80" stroke="#666" stroke-width="0.8" />
<text transform="translate(306.55,340.60) rotate(-90)" font-family="Liberation Sans" font-size="5.2" fill="#8a8a8a" stroke="#8a8a8a" stroke-width="0.2" textLength="9" lengthAdjust="spacingAndGlyphs">10</text>
<text transform="translate(308.95,333.30) rotate(-90)" font-family="Liberation Sans" font-size="4.8" fill="#999" stroke="#999" stroke-width="0.15" textLength="8" lengthAdjust="spacingAndGlyphs">1</text>
<line x1="304.95" y1="319.80" x2="304.95" y2="324.80" stroke="#666" stroke-width="0.8" />
<text transform="translate(331.90,340.60) rotate(-90)" font-family="Liberation Sans" font-size="5.2" fill="#8a8a8a" stroke="#8a8a8a" stroke-width="0.2" textLength="9" lengthAdjust="spacingAndGlyphs">10</text>
<text transform="translate(334.30,333.30) rotate(-90)" font-family="Liberation Sans" font-size="4.8" fill="#999" stroke="#999" stroke-width="0.15" textLength="8" lengthAdjust="spacingAndGlyphs">2</text>
<line x1="330.30" y1="319.80" x2="330.30" y2="324.80" stroke="#666" stroke-width="0.8" />
<text transform="translate(357.25,340.60) rotate(-90)" font-family="Liberation Sans" font-size="5.2" fill="#8a8a8a" stroke="#8a8a8a" stroke-width="0.2" textLength="9" lengthAdjust="spacingAndGlyphs">10</text>
<text transform="translate(359.65,333.30) rotate(-90)" font-family="Liberation Sans" font-size="4.8" fill="#999" stroke="#999" stroke-width="0.15" textLength="8" lengthAdjust="spacingAndGlyphs">3</text>
<line x1="355.65" y1="319.80" x2="355.65" y2="324.80" stroke="#666" stroke-width="0.8" />
<text transform="translate(382.60,340.60) rotate(-90)" font-family="Liberation Sans" font-size="5.2" fill="#8a8a8a" stroke="#8a8a8a" stroke-width="0.2" textLength="9" lengthAdjust="spacingAndGlyphs">10</text>
<text transform="translate(385.00,333.30) rotate(-90)" font-family="Liberation Sans" font-size="4.8" fill="#999" stroke="#999" stroke-width="0.15" textLength="8" lengthAdjust="spacingAndGlyphs">4</text>
<line x1="381.00" y1="319.80" x2="381.00" y2="324.80" stroke="#666" stroke-width="0.8" />
<text transform="translate(275.80,227.90) rotate(-90)" font-family="Liberation Sans" font-size="10" text-anchor="middle" fill="#111" stroke="#111" stroke-width="0.3">200</text>
<text transform="translate(275.80,319.00) rotate(-90)" font-family="Liberation Sans" font-size="10" text-anchor="middle" fill="#111" stroke="#111" stroke-width="0.3">0</text>
<text x="309.60" y="221.60" font-family="Liberation Sans" font-size="13.6" text-anchor="start" fill="#111" textLength="34.6" lengthAdjust="spacingAndGlyphs" stroke="#111" stroke-width="0.354" >2CdA</text>
<text x="327.00" y="264.60" font-family="Liberation Serif" font-size="14" text-anchor="start" fill="#111" textLength="25.3" lengthAdjust="spacingAndGlyphs" stroke="#111" stroke-width="0.12" >59%</text>
<line x1="304.00" y1="269.20" x2="365.30" y2="269.20" stroke="#111" stroke-width="1.5" />
<line x1="304.00" y1="259.00" x2="304.00" y2="279.30" stroke="#111" stroke-width="1.5" />
<line x1="365.30" y1="259.00" x2="365.30" y2="279.30" stroke="#111" stroke-width="1.5" />
<path d="M398.40,318.80 L398.50,318.84 L398.90,308.97 L399.67,309.39 L400.43,305.59 L401.20,305.09 L401.93,304.88 L402.65,302.10 L403.38,301.56 L404.10,298.53 L404.83,298.18 L405.55,296.35 L406.27,295.70 L407.00,292.83 L407.77,292.88 L408.53,290.84 L409.30,289.92 L410.15,290.46 L411.00,289.36 L411.77,289.35 L412.53,287.19 L413.30,286.66 L414.15,289.56 L415.00,289.47 L415.90,289.98 L416.80,287.33 L417.65,291.16 L418.50,293.46 L419.27,295.31 L420.03,295.25 L420.80,294.78 L421.57,297.84 L422.33,297.58 L423.10,296.99 L423.95,300.91 L424.80,301.36 L425.70,301.03 L426.60,297.53 L427.37,297.48 L428.13,294.62 L428.90,293.21 L429.75,291.85 L430.60,287.49 L431.45,291.37 L432.30,291.12 L433.20,295.31 L434.10,297.22 L434.95,301.32 L435.80,303.74 L436.57,306.92 L437.33,307.08 L438.10,309.19 L438.83,311.11 L439.55,310.93 L440.27,313.09 L441.00,313.32 L441.70,314.36 L442.40,313.64 L443.10,314.65 L443.80,314.12 L444.50,315.18 L445.21,315.69 L445.93,315.09 L446.64,316.25 L447.35,315.66 L448.06,316.70 L448.77,316.17 L449.49,316.95 L450.20,316.84 L450.93,317.11 L451.65,316.52 L452.38,317.62 L453.10,316.82 L453.82,317.77 L454.55,317.13 L455.27,317.67 L456.00,317.26 L456.71,318.07 L457.41,317.58 L458.12,317.89 L458.82,317.42 L459.53,318.05 L460.24,317.34 L460.94,317.84 L461.65,317.32 L462.35,317.97 L463.06,317.01 L463.76,317.88 L464.47,316.96 L465.18,317.77 L465.88,317.49 L466.59,317.78 L467.29,317.64 L468.00,318.16 L468.71,317.12 L469.41,317.87 L470.12,317.61 L470.82,318.01 L471.53,317.14 L472.24,318.23 L472.94,317.15 L473.65,318.13 L474.35,317.70 L475.06,318.05 L475.76,317.68 L476.47,318.13 L477.18,317.36 L477.88,317.98 L478.59,317.66 L479.29,318.30 L480.00,317.87 L480.71,318.33 L481.43,317.13 L482.14,318.42 L482.86,317.59 L483.57,318.23 L484.29,317.43 L485.00,318.28 L485.71,317.10 L486.43,318.33 L487.14,317.71 L487.86,318.43 L488.57,317.56 L489.29,318.31 L490.00,317.36 L490.71,318.01 L491.43,317.34 L492.14,318.37 L492.86,317.60 L493.57,318.31 L494.29,317.64 L495.00,318.15 L495.71,317.59 L496.43,318.08 L497.14,317.63 L497.86,318.42 L498.57,317.69 L499.29,318.39 L500.00,318.10 L500.70,318.80 Z" fill="#3d3d3d" stroke="#111" stroke-width="0.9" stroke-linejoin="round"/>
<line x1="397.90" y1="226.00" x2="501.20" y2="226.00" stroke="#111" stroke-width="1.4" />
<line x1="500.70" y1="226.00" x2="500.70" y2="318.80" stroke="#444" stroke-width="1.0" />
<line x1="398.40" y1="226.00" x2="398.40" y2="318.80" stroke="#333" stroke-width="1.0" />
<line x1="397.70" y1="227.50" x2="397.70" y2="318.80" stroke="#333" stroke-width="1.3" stroke-dasharray="1.2 2.4"/>
<line x1="398.40" y1="318.80" x2="500.70" y2="318.80" stroke="#111" stroke-width="2.0" />
<line x1="398.40" y1="318.80" x2="398.40" y2="323.30" stroke="#2a2a2a" stroke-width="0.9" />
<line x1="406.10" y1="318.80" x2="406.10" y2="322.40" stroke="#2a2a2a" stroke-width="0.9" />
<line x1="410.60" y1="318.80" x2="410.60" y2="322.40" stroke="#2a2a2a" stroke-width="0.9" />
<line x1="413.80" y1="318.80" x2="413.80" y2="322.40" stroke="#2a2a2a" stroke-width="0.9" />
<line x1="416.28" y1="318.80" x2="416.28" y2="322.40" stroke="#2a2a2a" stroke-width="0.9" />
<line x1="418.30" y1="318.80" x2="418.30" y2="322.40" stroke="#2a2a2a" stroke-width="0.9" />
<line x1="420.01" y1="318.80" x2="420.01" y2="322.40" stroke="#2a2a2a" stroke-width="0.9" />
<line x1="421.50" y1="318.80" x2="421.50" y2="322.40" stroke="#2a2a2a" stroke-width="0.9" />
<line x1="422.80" y1="318.80" x2="422.80" y2="322.40" stroke="#2a2a2a" stroke-width="0.9" />
<line x1="423.97" y1="318.80" x2="423.97" y2="323.30" stroke="#2a2a2a" stroke-width="0.9" />
<line x1="431.67" y1="318.80" x2="431.67" y2="322.40" stroke="#2a2a2a" stroke-width="0.9" />
<line x1="436.18" y1="318.80" x2="436.18" y2="322.40" stroke="#2a2a2a" stroke-width="0.9" />
<line x1="439.37" y1="318.80" x2="439.37" y2="322.40" stroke="#2a2a2a" stroke-width="0.9" />
<line x1="441.85" y1="318.80" x2="441.85" y2="322.40" stroke="#2a2a2a" stroke-width="0.9" />
<line x1="443.88" y1="318.80" x2="443.88" y2="322.40" stroke="#2a2a2a" stroke-width="0.9" />
<line x1="445.59" y1="318.80" x2="445.59" y2="322.40" stroke="#2a2a2a" stroke-width="0.9" />
<line x1="447.07" y1="318.80" x2="447.07" y2="322.40" stroke="#2a2a2a" stroke-width="0.9" />
<line x1="448.38" y1="318.80" x2="448.38" y2="322.40" stroke="#2a2a2a" stroke-width="0.9" />
<line x1="449.55" y1="318.80" x2="449.55" y2="323.30" stroke="#2a2a2a" stroke-width="0.9" />
<line x1="457.25" y1="318.80" x2="457.25" y2="322.40" stroke="#2a2a2a" stroke-width="0.9" />
<line x1="461.75" y1="318.80" x2="461.75" y2="322.40" stroke="#2a2a2a" stroke-width="0.9" />
<line x1="464.95" y1="318.80" x2="464.95" y2="322.40" stroke="#2a2a2a" stroke-width="0.9" />
<line x1="467.43" y1="318.80" x2="467.43" y2="322.40" stroke="#2a2a2a" stroke-width="0.9" />
<line x1="469.45" y1="318.80" x2="469.45" y2="322.40" stroke="#2a2a2a" stroke-width="0.9" />
<line x1="471.16" y1="318.80" x2="471.16" y2="322.40" stroke="#2a2a2a" stroke-width="0.9" />
<line x1="472.65" y1="318.80" x2="472.65" y2="322.40" stroke="#2a2a2a" stroke-width="0.9" />
<line x1="473.95" y1="318.80" x2="473.95" y2="322.40" stroke="#2a2a2a" stroke-width="0.9" />
<line x1="475.12" y1="318.80" x2="475.12" y2="323.30" stroke="#2a2a2a" stroke-width="0.9" />
<line x1="482.82" y1="318.80" x2="482.82" y2="322.40" stroke="#2a2a2a" stroke-width="0.9" />
<line x1="487.33" y1="318.80" x2="487.33" y2="322.40" stroke="#2a2a2a" stroke-width="0.9" />
<line x1="490.52" y1="318.80" x2="490.52" y2="322.40" stroke="#2a2a2a" stroke-width="0.9" />
<line x1="493.00" y1="318.80" x2="493.00" y2="322.40" stroke="#2a2a2a" stroke-width="0.9" />
<line x1="495.03" y1="318.80" x2="495.03" y2="322.40" stroke="#2a2a2a" stroke-width="0.9" />
<line x1="496.74" y1="318.80" x2="496.74" y2="322.40" stroke="#2a2a2a" stroke-width="0.9" />
<line x1="498.22" y1="318.80" x2="498.22" y2="322.40" stroke="#2a2a2a" stroke-width="0.9" />
<line x1="499.53" y1="318.80" x2="499.53" y2="322.40" stroke="#2a2a2a" stroke-width="0.9" />
<line x1="500.70" y1="318.80" x2="500.70" y2="321.80" stroke="#444" stroke-width="0.7" />
<text transform="translate(400.00,339.60) rotate(-90)" font-family="Liberation Sans" font-size="5.2" fill="#8a8a8a" stroke="#8a8a8a" stroke-width="0.2" textLength="9" lengthAdjust="spacingAndGlyphs">10</text>
<text transform="translate(402.40,332.30) rotate(-90)" font-family="Liberation Sans" font-size="4.8" fill="#999" stroke="#999" stroke-width="0.15" textLength="8" lengthAdjust="spacingAndGlyphs">0</text>
<line x1="398.40" y1="318.80" x2="398.40" y2="323.80" stroke="#666" stroke-width="0.8" />
<text transform="translate(425.57,339.60) rotate(-90)" font-family="Liberation Sans" font-size="5.2" fill="#8a8a8a" stroke="#8a8a8a" stroke-width="0.2" textLength="9" lengthAdjust="spacingAndGlyphs">10</text>
<text transform="translate(427.97,332.30) rotate(-90)" font-family="Liberation Sans" font-size="4.8" fill="#999" stroke="#999" stroke-width="0.15" textLength="8" lengthAdjust="spacingAndGlyphs">1</text>
<line x1="423.97" y1="318.80" x2="423.97" y2="323.80" stroke="#666" stroke-width="0.8" />
<text transform="translate(451.15,339.60) rotate(-90)" font-family="Liberation Sans" font-size="5.2" fill="#8a8a8a" stroke="#8a8a8a" stroke-width="0.2" textLength="9" lengthAdjust="spacingAndGlyphs">10</text>
<text transform="translate(453.55,332.30) rotate(-90)" font-family="Liberation Sans" font-size="4.8" fill="#999" stroke="#999" stroke-width="0.15" textLength="8" lengthAdjust="spacingAndGlyphs">2</text>
<line x1="449.55" y1="318.80" x2="449.55" y2="323.80" stroke="#666" stroke-width="0.8" />
<text transform="translate(476.73,339.60) rotate(-90)" font-family="Liberation Sans" font-size="5.2" fill="#8a8a8a" stroke="#8a8a8a" stroke-width="0.2" textLength="9" lengthAdjust="spacingAndGlyphs">10</text>
<text transform="translate(479.12,332.30) rotate(-90)" font-family="Liberation Sans" font-size="4.8" fill="#999" stroke="#999" stroke-width="0.15" textLength="8" lengthAdjust="spacingAndGlyphs">3</text>
<line x1="475.12" y1="318.80" x2="475.12" y2="323.80" stroke="#666" stroke-width="0.8" />
<text transform="translate(502.30,339.60) rotate(-90)" font-family="Liberation Sans" font-size="5.2" fill="#8a8a8a" stroke="#8a8a8a" stroke-width="0.2" textLength="9" lengthAdjust="spacingAndGlyphs">10</text>
<text transform="translate(504.70,332.30) rotate(-90)" font-family="Liberation Sans" font-size="4.8" fill="#999" stroke="#999" stroke-width="0.15" textLength="8" lengthAdjust="spacingAndGlyphs">4</text>
<line x1="500.70" y1="318.80" x2="500.70" y2="323.80" stroke="#666" stroke-width="0.8" />
<text transform="translate(394.60,228.30) rotate(-90)" font-family="Liberation Sans" font-size="10" text-anchor="middle" fill="#111" stroke="#111" stroke-width="0.3">200</text>
<text transform="translate(394.60,318.00) rotate(-90)" font-family="Liberation Sans" font-size="10" text-anchor="middle" fill="#111" stroke="#111" stroke-width="0.3">0</text>
<text x="429.00" y="221.50" font-family="Liberation Sans" font-size="13.6" text-anchor="start" fill="#111" textLength="43.9" lengthAdjust="spacingAndGlyphs" stroke="#111" stroke-width="0.354" >F-AraA</text>
<text x="446.00" y="263.60" font-family="Liberation Serif" font-size="14" text-anchor="start" fill="#111" textLength="25.5" lengthAdjust="spacingAndGlyphs" stroke="#111" stroke-width="0.12" >28%</text>
<line x1="423.00" y1="269.20" x2="484.20" y2="269.20" stroke="#111" stroke-width="1.5" />
<line x1="423.00" y1="257.90" x2="423.00" y2="280.20" stroke="#111" stroke-width="1.5" />
<line x1="484.20" y1="257.90" x2="484.20" y2="280.20" stroke="#111" stroke-width="1.5" />
<text x="10.80" y="391.00" font-family="Liberation Sans" font-size="25.5" text-anchor="start" fill="#111" stroke="#111" stroke-width="0.25" font-weight="bold">C</text>
<polygon points="65.0,375.4 455.6,375.0 455.6,648.5 65.0,649.2" fill="none" stroke="#111" stroke-width="1.5"/>
<line x1="108.40" y1="398.20" x2="108.40" y2="487.00" stroke="#111" stroke-width="1.5" />
<line x1="108.40" y1="486.40" x2="242.44" y2="486.40" stroke="#111" stroke-width="1.5" />
<line x1="103.80" y1="486.40" x2="108.40" y2="486.40" stroke="#111" stroke-width="1.3" />
<text x="101.80" y="489.30" font-family="Liberation Sans" font-size="10" text-anchor="end" fill="#111" stroke="#111" stroke-width="0.26" >0</text>
<line x1="103.80" y1="471.80" x2="108.40" y2="471.80" stroke="#111" stroke-width="1.3" />
<text x="101.80" y="474.70" font-family="Liberation Sans" font-size="10" text-anchor="end" fill="#111" stroke="#111" stroke-width="0.26" >10</text>
<line x1="103.80" y1="457.20" x2="108.40" y2="457.20" stroke="#111" stroke-width="1.3" />
<text x="101.80" y="460.10" font-family="Liberation Sans" font-size="10" text-anchor="end" fill="#111" stroke="#111" stroke-width="0.26" >20</text>
<line x1="103.80" y1="442.60" x2="108.40" y2="442.60" stroke="#111" stroke-width="1.3" />
<text x="101.80" y="445.50" font-family="Liberation Sans" font-size="10" text-anchor="end" fill="#111" stroke="#111" stroke-width="0.26" >30</text>
<line x1="103.80" y1="428.00" x2="108.40" y2="428.00" stroke="#111" stroke-width="1.3" />
<text x="101.80" y="430.90" font-family="Liberation Sans" font-size="10" text-anchor="end" fill="#111" stroke="#111" stroke-width="0.26" >40</text>
<line x1="103.80" y1="413.40" x2="108.40" y2="413.40" stroke="#111" stroke-width="1.3" />
<text x="101.80" y="416.30" font-family="Liberation Sans" font-size="10" text-anchor="end" fill="#111" stroke="#111" stroke-width="0.26" >50</text>
<line x1="103.80" y1="398.80" x2="108.40" y2="398.80" stroke="#111" stroke-width="1.3" />
<text x="101.80" y="401.70" font-family="Liberation Sans" font-size="10" text-anchor="end" fill="#111" stroke="#111" stroke-width="0.26" >60</text>
<line x1="108.40" y1="486.40" x2="108.40" y2="491.60" stroke="#111" stroke-width="1.3" />
<text x="108.40" y="500.30" font-family="Liberation Sans" font-size="9.6" text-anchor="middle" fill="#111" stroke="#111" stroke-width="0.25" >0</text>
<line x1="141.76" y1="486.40" x2="141.76" y2="491.60" stroke="#111" stroke-width="1.3" />
<text x="141.76" y="500.30" font-family="Liberation Sans" font-size="9.6" text-anchor="middle" fill="#111" stroke="#111" stroke-width="0.25" >4</text>
<line x1="175.12" y1="486.40" x2="175.12" y2="491.60" stroke="#111" stroke-width="1.3" />
<text x="175.12" y="500.30" font-family="Liberation Sans" font-size="9.6" text-anchor="middle" fill="#111" stroke="#111" stroke-width="0.25" >8</text>
<line x1="208.48" y1="486.40" x2="208.48" y2="491.60" stroke="#111" stroke-width="1.3" />
<text x="208.48" y="500.30" font-family="Liberation Sans" font-size="9.6" text-anchor="middle" fill="#111" stroke="#111" stroke-width="0.25" >12</text>
<line x1="241.84" y1="486.40" x2="241.84" y2="491.60" stroke="#111" stroke-width="1.3" />
<text x="241.84" y="500.30" font-family="Liberation Sans" font-size="9.6" text-anchor="middle" fill="#111" stroke="#111" stroke-width="0.25" >16</text>
<text x="176.12" y="513.20" font-family="Liberation Sans" font-size="10" text-anchor="middle" fill="#111" stroke="#111" stroke-width="0.26" >hours</text>
<text transform="translate(87.80,442.60) rotate(-90)" font-family="Liberation Sans" font-size="10" text-anchor="middle" fill="#111" stroke="#111" stroke-width="0.2" textLength="72.7" lengthAdjust="spacingAndGlyphs">Low-DiOC6 cells</text>
<text x="144.50" y="397.80" font-family="Liberation Sans" font-size="13.6" text-anchor="start" fill="#111" textLength="34.2" lengthAdjust="spacingAndGlyphs" stroke="#111" stroke-width="0.354" >2CdA</text>
<polyline points="108.40,484.21 141.76,484.06 175.12,477.20 241.84,456.62" fill="none" stroke="#111" stroke-width="1.75" stroke-linejoin="round"/>
<polyline points="108.40,483.77 141.76,476.47 175.12,465.38 241.84,424.64" fill="none" stroke="#111" stroke-width="1.75" stroke-linejoin="round"/>
<line x1="241.84" y1="452.67" x2="241.84" y2="460.56" stroke="#111" stroke-width="1.4" />
<line x1="239.04" y1="452.67" x2="244.64" y2="452.67" stroke="#111" stroke-width="1.4" />
<line x1="239.04" y1="460.56" x2="244.64" y2="460.56" stroke="#111" stroke-width="1.4" />
<line x1="141.76" y1="475.74" x2="141.76" y2="477.20" stroke="#111" stroke-width="1.4" />
<line x1="138.96" y1="475.74" x2="144.56" y2="475.74" stroke="#111" stroke-width="1.4" />
<line x1="138.96" y1="477.20" x2="144.56" y2="477.20" stroke="#111" stroke-width="1.4" />
<line x1="175.12" y1="463.19" x2="175.12" y2="467.57" stroke="#111" stroke-width="1.4" />
<line x1="172.32" y1="463.19" x2="177.92" y2="463.19" stroke="#111" stroke-width="1.4" />
<line x1="172.32" y1="467.57" x2="177.92" y2="467.57" stroke="#111" stroke-width="1.4" />
<line x1="241.84" y1="417.34" x2="241.84" y2="431.94" stroke="#111" stroke-width="1.4" />
<line x1="239.04" y1="417.34" x2="244.64" y2="417.34" stroke="#111" stroke-width="1.4" />
<line x1="239.04" y1="431.94" x2="244.64" y2="431.94" stroke="#111" stroke-width="1.4" />
<circle cx="108.40" cy="484.21" r="3.6" fill="none" stroke="#111" stroke-width="1.2"/>
<circle cx="141.76" cy="484.06" r="3.6" fill="none" stroke="#111" stroke-width="1.2"/>
<circle cx="175.12" cy="477.20" r="3.6" fill="none" stroke="#111" stroke-width="1.2"/>
<circle cx="241.84" cy="456.62" r="3.6" fill="none" stroke="#111" stroke-width="1.2"/>
<circle cx="108.40" cy="483.77" r="2.6" fill="#111" stroke="#111" stroke-width="0.8"/>
<circle cx="141.76" cy="476.47" r="2.6" fill="#111" stroke="#111" stroke-width="0.8"/>
<circle cx="175.12" cy="465.38" r="2.6" fill="#111" stroke="#111" stroke-width="0.8"/>
<circle cx="241.84" cy="424.64" r="2.6" fill="#111" stroke="#111" stroke-width="0.8"/>
<line x1="294.40" y1="397.90" x2="294.40" y2="486.70" stroke="#111" stroke-width="1.5" />
<line x1="294.40" y1="486.10" x2="429.24" y2="486.10" stroke="#111" stroke-width="1.5" />
<line x1="289.80" y1="486.10" x2="294.40" y2="486.10" stroke="#111" stroke-width="1.3" />
<text x="287.80" y="489.00" font-family="Liberation Sans" font-size="10" text-anchor="end" fill="#111" stroke="#111" stroke-width="0.26" >0</text>
<line x1="289.80" y1="471.50" x2="294.40" y2="471.50" stroke="#111" stroke-width="1.3" />
<text x="287.80" y="474.40" font-family="Liberation Sans" font-size="10" text-anchor="end" fill="#111" stroke="#111" stroke-width="0.26" >10</text>
<line x1="289.80" y1="456.90" x2="294.40" y2="456.90" stroke="#111" stroke-width="1.3" />
<text x="287.80" y="459.80" font-family="Liberation Sans" font-size="10" text-anchor="end" fill="#111" stroke="#111" stroke-width="0.26" >20</text>
<line x1="289.80" y1="442.30" x2="294.40" y2="442.30" stroke="#111" stroke-width="1.3" />
<text x="287.80" y="445.20" font-family="Liberation Sans" font-size="10" text-anchor="end" fill="#111" stroke="#111" stroke-width="0.26" >30</text>
<line x1="289.80" y1="427.70" x2="294.40" y2="427.70" stroke="#111" stroke-width="1.3" />
<text x="287.80" y="430.60" font-family="Liberation Sans" font-size="10" text-anchor="end" fill="#111" stroke="#111" stroke-width="0.26" >40</text>
<line x1="289.80" y1="413.10" x2="294.40" y2="413.10" stroke="#111" stroke-width="1.3" />
<text x="287.80" y="416.00" font-family="Liberation Sans" font-size="10" text-anchor="end" fill="#111" stroke="#111" stroke-width="0.26" >50</text>
<line x1="289.80" y1="398.50" x2="294.40" y2="398.50" stroke="#111" stroke-width="1.3" />
<text x="287.80" y="401.40" font-family="Liberation Sans" font-size="10" text-anchor="end" fill="#111" stroke="#111" stroke-width="0.26" >60</text>
<line x1="294.40" y1="486.10" x2="294.40" y2="491.30" stroke="#111" stroke-width="1.3" />
<text x="294.40" y="500.30" font-family="Liberation Sans" font-size="9.6" text-anchor="middle" fill="#111" stroke="#111" stroke-width="0.25" >0</text>
<line x1="327.96" y1="486.10" x2="327.96" y2="491.30" stroke="#111" stroke-width="1.3" />
<text x="327.96" y="500.30" font-family="Liberation Sans" font-size="9.6" text-anchor="middle" fill="#111" stroke="#111" stroke-width="0.25" >4</text>
<line x1="361.52" y1="486.10" x2="361.52" y2="491.30" stroke="#111" stroke-width="1.3" />
<text x="361.52" y="500.30" font-family="Liberation Sans" font-size="9.6" text-anchor="middle" fill="#111" stroke="#111" stroke-width="0.25" >8</text>
<line x1="395.08" y1="486.10" x2="395.08" y2="491.30" stroke="#111" stroke-width="1.3" />
<text x="395.08" y="500.30" font-family="Liberation Sans" font-size="9.6" text-anchor="middle" fill="#111" stroke="#111" stroke-width="0.25" >12</text>
<line x1="428.64" y1="486.10" x2="428.64" y2="491.30" stroke="#111" stroke-width="1.3" />
<text x="428.64" y="500.30" font-family="Liberation Sans" font-size="9.6" text-anchor="middle" fill="#111" stroke="#111" stroke-width="0.25" >16</text>
<text x="362.52" y="513.20" font-family="Liberation Sans" font-size="10" text-anchor="middle" fill="#111" stroke="#111" stroke-width="0.26" >hours</text>
<text transform="translate(274.60,442.30) rotate(-90)" font-family="Liberation Sans" font-size="10" text-anchor="middle" fill="#111" stroke="#111" stroke-width="0.2" textLength="72.7" lengthAdjust="spacingAndGlyphs">Low-DiOC6 cells</text>
<text x="325.50" y="397.50" font-family="Liberation Sans" font-size="13.6" text-anchor="start" fill="#111" textLength="44.3" lengthAdjust="spacingAndGlyphs" stroke="#111" stroke-width="0.354" >F-AraA</text>
<polyline points="294.40,482.89 327.96,482.45 361.52,481.72 428.64,409.30" fill="none" stroke="#111" stroke-width="1.75" stroke-linejoin="round"/>
<polyline points="294.40,483.03 327.96,483.03 361.52,482.60 428.64,423.61" fill="none" stroke="#111" stroke-width="1.75" stroke-linejoin="round"/>
<line x1="428.64" y1="403.03" x2="428.64" y2="415.58" stroke="#111" stroke-width="1.4" />
<line x1="425.84" y1="403.03" x2="431.44" y2="403.03" stroke="#111" stroke-width="1.4" />
<line x1="425.84" y1="415.58" x2="431.44" y2="415.58" stroke="#111" stroke-width="1.4" />
<line x1="428.64" y1="418.94" x2="428.64" y2="428.28" stroke="#111" stroke-width="1.4" />
<line x1="425.84" y1="418.94" x2="431.44" y2="418.94" stroke="#111" stroke-width="1.4" />
<line x1="425.84" y1="428.28" x2="431.44" y2="428.28" stroke="#111" stroke-width="1.4" />
<circle cx="294.40" cy="482.89" r="3.6" fill="none" stroke="#111" stroke-width="1.2"/>
<circle cx="327.96" cy="482.45" r="3.6" fill="none" stroke="#111" stroke-width="1.2"/>
<circle cx="361.52" cy="481.72" r="3.6" fill="none" stroke="#111" stroke-width="1.2"/>
<circle cx="428.64" cy="409.30" r="3.6" fill="none" stroke="#111" stroke-width="1.2"/>
<circle cx="294.40" cy="483.03" r="2.6" fill="#111" stroke="#111" stroke-width="0.8"/>
<circle cx="327.96" cy="483.03" r="2.6" fill="#111" stroke="#111" stroke-width="0.8"/>
<circle cx="361.52" cy="482.60" r="2.6" fill="#111" stroke="#111" stroke-width="0.8"/>
<circle cx="428.64" cy="423.61" r="2.6" fill="#111" stroke="#111" stroke-width="0.8"/>
<line x1="107.60" y1="526.40" x2="107.60" y2="614.60" stroke="#111" stroke-width="1.5" />
<line x1="107.60" y1="614.00" x2="242.12" y2="614.00" stroke="#111" stroke-width="1.5" />
<line x1="103.00" y1="614.00" x2="107.60" y2="614.00" stroke="#111" stroke-width="1.3" />
<text x="101.00" y="616.90" font-family="Liberation Sans" font-size="10" text-anchor="end" fill="#111" stroke="#111" stroke-width="0.26" >100</text>
<line x1="103.00" y1="585.00" x2="107.60" y2="585.00" stroke="#111" stroke-width="1.3" />
<text x="101.00" y="587.90" font-family="Liberation Sans" font-size="10" text-anchor="end" fill="#111" stroke="#111" stroke-width="0.26" >200</text>
<line x1="103.00" y1="556.00" x2="107.60" y2="556.00" stroke="#111" stroke-width="1.3" />
<text x="101.00" y="558.90" font-family="Liberation Sans" font-size="10" text-anchor="end" fill="#111" stroke="#111" stroke-width="0.26" >300</text>
<line x1="103.00" y1="527.00" x2="107.60" y2="527.00" stroke="#111" stroke-width="1.3" />
<text x="101.00" y="529.90" font-family="Liberation Sans" font-size="10" text-anchor="end" fill="#111" stroke="#111" stroke-width="0.26" >400</text>
<line x1="107.60" y1="614.00" x2="107.60" y2="619.20" stroke="#111" stroke-width="1.3" />
<text x="107.60" y="628.40" font-family="Liberation Sans" font-size="9.6" text-anchor="middle" fill="#111" stroke="#111" stroke-width="0.25" >0</text>
<line x1="141.08" y1="614.00" x2="141.08" y2="619.20" stroke="#111" stroke-width="1.3" />
<text x="141.08" y="628.40" font-family="Liberation Sans" font-size="9.6" text-anchor="middle" fill="#111" stroke="#111" stroke-width="0.25" >4</text>
<line x1="174.56" y1="614.00" x2="174.56" y2="619.20" stroke="#111" stroke-width="1.3" />
<text x="174.56" y="628.40" font-family="Liberation Sans" font-size="9.6" text-anchor="middle" fill="#111" stroke="#111" stroke-width="0.25" >8</text>
<line x1="208.04" y1="614.00" x2="208.04" y2="619.20" stroke="#111" stroke-width="1.3" />
<text x="208.04" y="628.40" font-family="Liberation Sans" font-size="9.6" text-anchor="middle" fill="#111" stroke="#111" stroke-width="0.25" >12</text>
<line x1="241.52" y1="614.00" x2="241.52" y2="619.20" stroke="#111" stroke-width="1.3" />
<text x="241.52" y="628.40" font-family="Liberation Sans" font-size="9.6" text-anchor="middle" fill="#111" stroke="#111" stroke-width="0.25" >16</text>
<text x="175.56" y="640.80" font-family="Liberation Sans" font-size="10" text-anchor="middle" fill="#111" stroke="#111" stroke-width="0.26" >hours</text>
<text transform="translate(80.60,570.50) rotate(-90)" font-family="Liberation Sans" font-size="10" text-anchor="middle" fill="#111" stroke="#111" stroke-width="0.2" textLength="47.5" lengthAdjust="spacingAndGlyphs">Caspase-3</text>
<polyline points="107.60,614.00 141.08,611.68 174.56,611.68 241.52,551.36" fill="none" stroke="#111" stroke-width="1.75" stroke-linejoin="round"/>
<polyline points="107.60,614.00 141.08,605.01 174.56,596.31 241.52,540.34" fill="none" stroke="#111" stroke-width="1.75" stroke-linejoin="round"/>
<line x1="141.08" y1="602.40" x2="141.08" y2="607.62" stroke="#111" stroke-width="1.4" />
<line x1="138.28" y1="602.40" x2="143.88" y2="602.40" stroke="#111" stroke-width="1.4" />
<line x1="138.28" y1="607.62" x2="143.88" y2="607.62" stroke="#111" stroke-width="1.4" />
<line x1="174.56" y1="593.70" x2="174.56" y2="598.92" stroke="#111" stroke-width="1.4" />
<line x1="171.76" y1="593.70" x2="177.36" y2="593.70" stroke="#111" stroke-width="1.4" />
<line x1="171.76" y1="598.92" x2="177.36" y2="598.92" stroke="#111" stroke-width="1.4" />
<line x1="241.52" y1="533.38" x2="241.52" y2="547.30" stroke="#111" stroke-width="1.4" />
<line x1="238.72" y1="533.38" x2="244.32" y2="533.38" stroke="#111" stroke-width="1.4" />
<line x1="238.72" y1="547.30" x2="244.32" y2="547.30" stroke="#111" stroke-width="1.4" />
<circle cx="107.60" cy="614.00" r="3.6" fill="none" stroke="#111" stroke-width="1.2"/>
<circle cx="141.08" cy="611.68" r="3.6" fill="none" stroke="#111" stroke-width="1.2"/>
<circle cx="174.56" cy="611.68" r="3.6" fill="none" stroke="#111" stroke-width="1.2"/>
<circle cx="241.52" cy="551.36" r="3.6" fill="none" stroke="#111" stroke-width="1.2"/>
<circle cx="107.60" cy="614.00" r="2.6" fill="#111" stroke="#111" stroke-width="0.8"/>
<circle cx="141.08" cy="605.01" r="2.6" fill="#111" stroke="#111" stroke-width="0.8"/>
<circle cx="174.56" cy="596.31" r="2.6" fill="#111" stroke="#111" stroke-width="0.8"/>
<circle cx="241.52" cy="540.34" r="2.6" fill="#111" stroke="#111" stroke-width="0.8"/>
<line x1="294.70" y1="525.80" x2="294.70" y2="614.00" stroke="#111" stroke-width="1.5" />
<line x1="294.70" y1="613.40" x2="429.06" y2="613.40" stroke="#111" stroke-width="1.5" />
<line x1="290.10" y1="613.40" x2="294.70" y2="613.40" stroke="#111" stroke-width="1.3" />
<text x="288.10" y="616.30" font-family="Liberation Sans" font-size="10" text-anchor="end" fill="#111" stroke="#111" stroke-width="0.26" >100</text>
<line x1="290.10" y1="584.40" x2="294.70" y2="584.40" stroke="#111" stroke-width="1.3" />
<text x="288.10" y="587.30" font-family="Liberation Sans" font-size="10" text-anchor="end" fill="#111" stroke="#111" stroke-width="0.26" >200</text>
<line x1="290.10" y1="555.40" x2="294.70" y2="555.40" stroke="#111" stroke-width="1.3" />
<text x="288.10" y="558.30" font-family="Liberation Sans" font-size="10" text-anchor="end" fill="#111" stroke="#111" stroke-width="0.26" >300</text>
<line x1="290.10" y1="526.40" x2="294.70" y2="526.40" stroke="#111" stroke-width="1.3" />
<text x="288.10" y="529.30" font-family="Liberation Sans" font-size="10" text-anchor="end" fill="#111" stroke="#111" stroke-width="0.26" >400</text>
<line x1="294.70" y1="613.40" x2="294.70" y2="618.60" stroke="#111" stroke-width="1.3" />
<text x="294.70" y="628.40" font-family="Liberation Sans" font-size="9.6" text-anchor="middle" fill="#111" stroke="#111" stroke-width="0.25" >0</text>
<line x1="328.14" y1="613.40" x2="328.14" y2="618.60" stroke="#111" stroke-width="1.3" />
<text x="328.14" y="628.40" font-family="Liberation Sans" font-size="9.6" text-anchor="middle" fill="#111" stroke="#111" stroke-width="0.25" >4</text>
<line x1="361.58" y1="613.40" x2="361.58" y2="618.60" stroke="#111" stroke-width="1.3" />
<text x="361.58" y="628.40" font-family="Liberation Sans" font-size="9.6" text-anchor="middle" fill="#111" stroke="#111" stroke-width="0.25" >8</text>
<line x1="395.02" y1="613.40" x2="395.02" y2="618.60" stroke="#111" stroke-width="1.3" />
<text x="395.02" y="628.40" font-family="Liberation Sans" font-size="9.6" text-anchor="middle" fill="#111" stroke="#111" stroke-width="0.25" >12</text>
<line x1="428.46" y1="613.40" x2="428.46" y2="618.60" stroke="#111" stroke-width="1.3" />
<text x="428.46" y="628.40" font-family="Liberation Sans" font-size="9.6" text-anchor="middle" fill="#111" stroke="#111" stroke-width="0.25" >16</text>
<text x="362.58" y="640.80" font-family="Liberation Sans" font-size="10" text-anchor="middle" fill="#111" stroke="#111" stroke-width="0.26" >hours</text>
<text transform="translate(267.70,569.90) rotate(-90)" font-family="Liberation Sans" font-size="10" text-anchor="middle" fill="#111" stroke="#111" stroke-width="0.2" textLength="47.5" lengthAdjust="spacingAndGlyphs">Caspase-3</text>
<polyline points="294.70,613.40 328.14,609.34 361.58,605.57 428.46,583.24" fill="none" stroke="#111" stroke-width="1.75" stroke-linejoin="round"/>
<polyline points="294.70,613.40 328.14,609.63 361.58,610.50 428.46,577.21" fill="none" stroke="#111" stroke-width="1.75" stroke-linejoin="round"/>
<line x1="328.14" y1="606.73" x2="328.14" y2="612.53" stroke="#111" stroke-width="1.4" />
<line x1="325.34" y1="606.73" x2="330.94" y2="606.73" stroke="#111" stroke-width="1.4" />
<line x1="325.34" y1="612.53" x2="330.94" y2="612.53" stroke="#111" stroke-width="1.4" />
<line x1="428.46" y1="571.70" x2="428.46" y2="577.21" stroke="#111" stroke-width="1.4" />
<line x1="425.66" y1="571.70" x2="431.26" y2="571.70" stroke="#111" stroke-width="1.4" />
<circle cx="294.70" cy="613.40" r="3.6" fill="none" stroke="#111" stroke-width="1.2"/>
<circle cx="328.14" cy="609.34" r="3.6" fill="none" stroke="#111" stroke-width="1.2"/>
<circle cx="361.58" cy="605.57" r="3.6" fill="none" stroke="#111" stroke-width="1.2"/>
<circle cx="428.46" cy="583.24" r="3.6" fill="none" stroke="#111" stroke-width="1.2"/>
<circle cx="294.70" cy="613.40" r="2.6" fill="#111" stroke="#111" stroke-width="0.8"/>
<circle cx="328.14" cy="609.63" r="2.6" fill="#111" stroke="#111" stroke-width="0.8"/>
<circle cx="361.58" cy="610.50" r="2.6" fill="#111" stroke="#111" stroke-width="0.8"/>
<circle cx="428.46" cy="577.21" r="2.6" fill="#111" stroke="#111" stroke-width="0.8"/>
</svg>
</body></html>
